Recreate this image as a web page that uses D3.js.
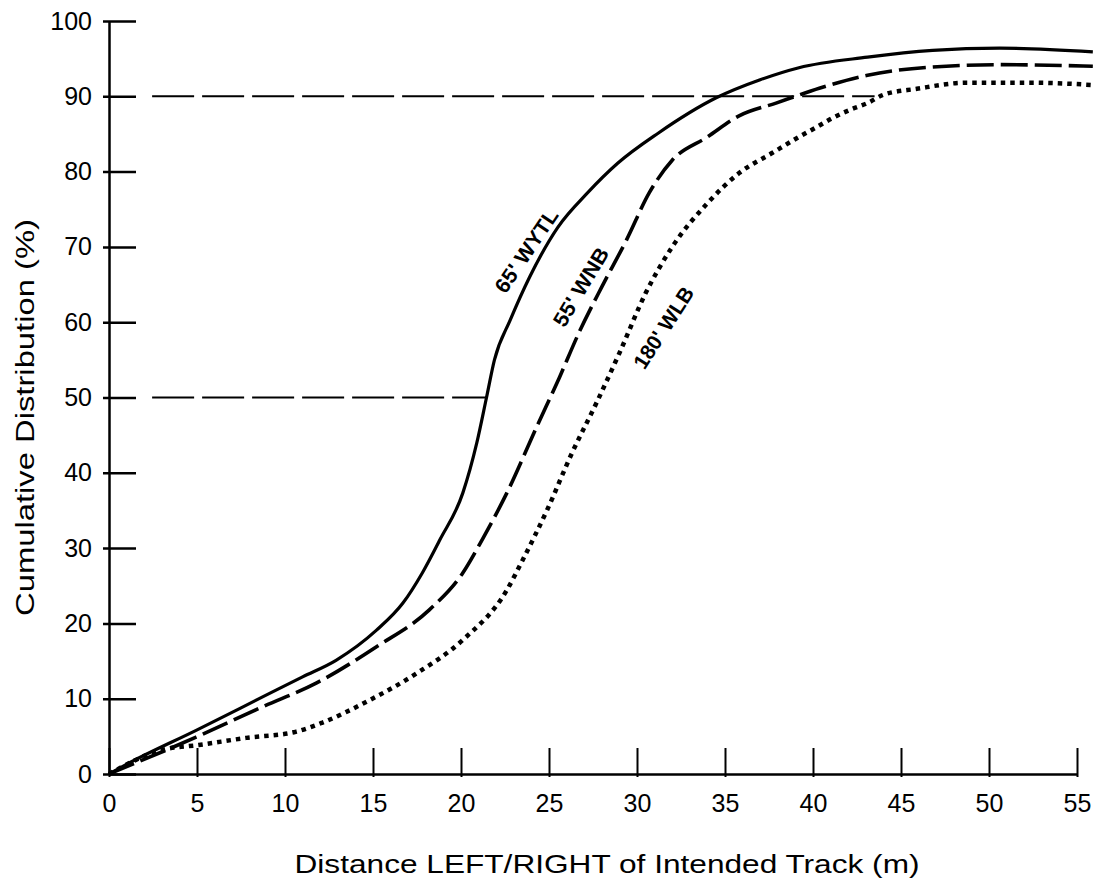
<!DOCTYPE html>
<html>
<head>
<meta charset="utf-8">
<script src="https://cdn.jsdelivr.net/npm/d3@7"></script>
<style>
  html, body { margin: 0; padding: 0; background: #fff; }
  svg { display: block; font-family: "Liberation Sans", Arial, Helvetica, sans-serif; }
</style>
</head>
<body>
<svg id="chart" width="1094" height="881"></svg>
<script>
// ---- data ----
const xTicks = [0, 5, 10, 15, 20, 25, 30, 35, 40, 45, 50, 55];
const yTicks = [0, 10, 20, 30, 40, 50, 60, 70, 80, 90, 100];

const seriesNames = ["65' WYTL", "55' WNB", "180' WLB"];

const wytlX = [0, 1.14, 4.95, 8.7, 11.0, 12.9, 15.2, 16.7, 17.8, 18.8, 20.1, 20.9, 21.45, 21.9, 22.8, 23.9, 25.5, 27.2, 28.9, 31.2, 34.5, 37.0, 39.2, 43.1, 46.8, 50.6, 55.9];
const wytlY = [0, 1.46, 5.8, 10.2, 12.9, 15.1, 19.1, 22.7, 26.7, 31.1, 37.3, 44.0, 50.0, 55.0, 60.3, 66.0, 72.6, 77.2, 81.1, 85.1, 89.8, 92.2, 93.8, 95.2, 96.1, 96.4, 95.9];

const wnbX = [0, 4.95, 8.7, 11.8, 15.2, 18.2, 20.1, 21.2, 22.6, 24.3, 25.6, 26.7, 28.0, 29.4, 30.7, 32.0, 34.0, 35.8, 37.9, 40.4, 43.1, 46.8, 50.6, 55.9];
const wnbY = [0, 4.9, 8.9, 12.1, 16.9, 21.8, 26.7, 31.1, 37.3, 46.1, 52.7, 58.6, 64.7, 70.9, 77.2, 81.5, 84.6, 87.4, 89.1, 91.1, 92.8, 93.9, 94.2, 94.0];

const wlbX = [0, 3.0, 5.1, 7.8, 10.6, 12.1, 14.8, 17.5, 20.1, 22.6, 23.5, 24.9, 26.3, 27.7, 29.0, 30.5, 32.0, 34.0, 35.8, 37.7, 39.2, 40.2, 41.1, 42.1, 43.1, 44.0, 45.9, 48.7, 52.5, 55.9];
const wlbY = [0, 3.2, 3.85, 4.8, 5.6, 6.8, 9.8, 13.4, 17.8, 24.4, 28.4, 35.1, 42.6, 49.3, 55.9, 63.9, 70.0, 75.8, 79.8, 82.5, 84.6, 85.9, 87.1, 88.2, 89.1, 90.2, 91.0, 91.8, 91.8, 91.5];

// reference (dashed) lines
const refY = [90, 50];
const refX0 = [2.45, 2.45];
const refX1 = [43.5, 21.45];

// label anchor positions (data units) and angles
const labelX = [23.7, 26.8, 31.5];
const labelY = [69.5, 64.7, 59.3];
const labelAngle = [-56, -59, -57];
const labelLen = [96, 88, 93];

// ---- drawing ----
const svg = d3.select("#chart");
svg.append("rect").attr("width", 1094).attr("height", 881).attr("fill", "#fff");

const x = d3.scaleLinear().domain([0, 55]).range([109, 1077]);
const y = d3.scaleLinear().domain([0, 100]).range([774, 21]);

// axes
const yAxis = svg.append("g")
  .attr("transform", `translate(${x(0)},0)`)
  .call(d3.axisLeft(y).tickValues(yTicks).tickSizeInner(-27).tickSizeOuter(0).tickPadding(17).tickFormat(d3.format("d")));
yAxis.select(".domain").attr("stroke", "#000").attr("stroke-width", 2.5);
yAxis.selectAll(".tick line").attr("x1", -6).attr("stroke", "#000").attr("stroke-width", 2.5);
yAxis.selectAll(".tick text").attr("font-size", 25).attr("fill", "#000")
  .attr("font-family", "'Liberation Sans', Arial, sans-serif");

const xAxis = svg.append("g")
  .attr("transform", `translate(0,${y(0)})`)
  .call(d3.axisBottom(x).tickValues(xTicks).tickSizeInner(-26).tickSizeOuter(0).tickPadding(20).tickFormat(d3.format("d")));
xAxis.select(".domain").attr("stroke", "#000").attr("stroke-width", 2.5);
xAxis.selectAll(".tick line").attr("y1", 3).attr("stroke", "#000").attr("stroke-width", 2);
xAxis.selectAll(".tick text").attr("font-size", 25).attr("fill", "#000")
  .attr("font-family", "'Liberation Sans', Arial, sans-serif");

// reference dashed lines
svg.append("g").selectAll("line").data(refY).join("line")
  .attr("x1", (d, i) => x(refX0[i]))
  .attr("x2", (d, i) => x(refX1[i]))
  .attr("y1", d => y(d))
  .attr("y2", d => y(d))
  .attr("stroke", "#000")
  .attr("stroke-width", 2)
  .attr("stroke-dasharray", "42,8");

// curves
const line = d3.line().x(d => x(d[0])).y(d => y(d[1])).curve(d3.curveMonotoneX);
const series = [
  { xs: wytlX, ys: wytlY, dash: null, w: 3.2 },
  { xs: wnbX, ys: wnbY, dash: "27,7", w: 3.6 },
  { xs: wlbX, ys: wlbY, dash: "4.5,5", w: 4.5 }
];
series.forEach(s => {
  const pts = s.xs.map((v, i) => [v, s.ys[i]]);
  svg.append("path")
    .attr("d", line(pts))
    .attr("fill", "none")
    .attr("stroke", "#000")
    .attr("stroke-width", s.w)
    .attr("stroke-dasharray", s.dash);
});

// curve labels
seriesNames.forEach((name, i) => {
  svg.append("text")
    .attr("transform", `translate(${x(labelX[i])},${y(labelY[i])}) rotate(${labelAngle[i]})`)
    .attr("text-anchor", "middle")
    .attr("dy", "0.36em")
    .attr("font-size", 21)
    .attr("font-weight", "bold")
    .attr("textLength", labelLen[i])
    .attr("lengthAdjust", "spacingAndGlyphs")
    .attr("fill", "#000")
    .text(name);
});

// axis titles
svg.append("text")
  .attr("transform", `translate(34,${(y(0) + y(100)) / 2 + 20}) rotate(-90)`)
  .attr("text-anchor", "middle")
  .attr("font-size", 25)
  .attr("textLength", 397)
  .attr("lengthAdjust", "spacingAndGlyphs")
  .attr("fill", "#000")
  .text("Cumulative Distribution (%)");

svg.append("text")
  .attr("x", (x(0) + x(55)) / 2 + 14)
  .attr("y", 873)
  .attr("text-anchor", "middle")
  .attr("font-size", 26)
  .attr("textLength", 625)
  .attr("lengthAdjust", "spacingAndGlyphs")
  .attr("fill", "#000")
  .text("Distance LEFT/RIGHT of Intended Track (m)");
</script>
</body>
</html>
